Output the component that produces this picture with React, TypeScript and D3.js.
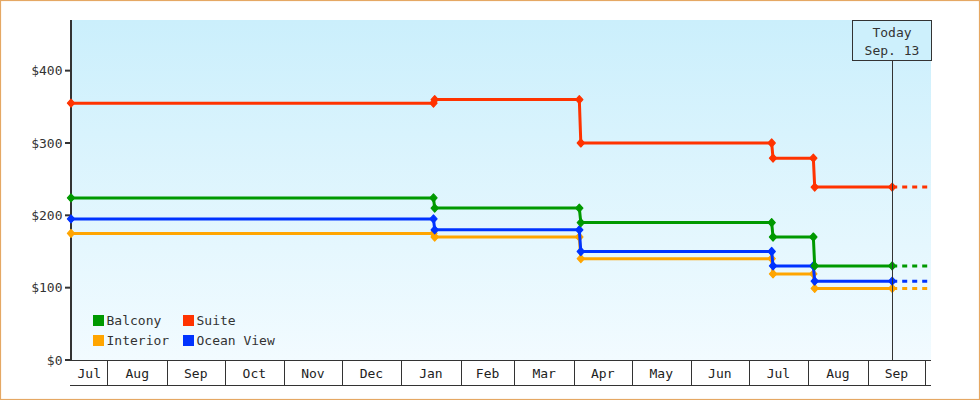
import React from "react";
import * as d3 from "d3";

// ---- data ----
const seriesNames = ["Interior", "Ocean View", "Balcony", "Suite"];
const seriesColors = ["#ffa500", "#0033ff", "#009900", "#ff3300"];
const legendOrder = ["Balcony", "Suite", "Interior", "Ocean View"];

// observation timestamps (price checks)
const obsDates = [
  "2010-07-13T00:00",
  "2011-01-17T20:00",
  "2011-01-18T11:00",
  "2011-04-03T19:00",
  "2011-04-04T14:00",
  "2011-07-13T00:00",
  "2011-07-13T17:00",
  "2011-08-03T17:00",
  "2011-08-04T10:00",
  "2011-09-13T19:00",
];
const interiorPrices = [175, 175, 170, 170, 140, 140, 119, 119, 99, 99];
const oceanViewPrices = [195, 195, 180, 180, 150, 150, 130, 130, 109, 109];
const balconyPrices = [224, 224, 210, 210, 190, 190, 170, 170, 130, 130];
const suitePrices = [355, 355, 360, 360, 300, 300, 279, 279, 239, 239];
const allPrices = [interiorPrices, oceanViewPrices, balconyPrices, suitePrices];

const yTicks = [0, 100, 200, 300, 400];
const domainStart = "2010-07-13T00:00";
const domainEnd = "2011-10-04T00:00";
const todayDate = "2011-09-13T19:00";
const todayLabel = ["Today", "Sep. 13"];

const W = 980;
const H = 400;
const FONT = "'DejaVu Sans Mono', monospace";

export default function App() {
  const parse = (s: string) => new Date(s);
  const x = d3
    .scaleTime()
    .domain([parse(domainStart), parse(domainEnd)])
    .range([71, 931]);
  const y = d3.scaleLinear().domain([0, 470]).range([360, 20]);

  const months = d3.timeMonth.range(
    d3.timeMonth.floor(parse(domainStart)),
    parse(domainEnd)
  );
  const fmt = d3.timeFormat("%b");
  const monthBands = months.map((m) => {
    const s = Math.max(x(m), 71);
    const e = Math.min(x(d3.timeMonth.offset(m, 1)), 931);
    return { m, s, e, boundary: x(m) };
  });

  const line = d3
    .line<[Date, number]>()
    .x((d) => x(d[0]))
    .y((d) => y(d[1]));

  const tx = x(parse(todayDate));
  const diamond = "M0,-4L3.6,0L0,4L-3.6,0Z";

  return (
    <svg
      width={W}
      height={H}
      style={{ position: "absolute", left: 0, top: 0, display: "block" }}
      fontFamily={FONT}
    >
      <defs>
        <linearGradient id="bg" x1="0" y1="0" x2="0" y2="1">
          <stop offset="0" stopColor="#cbeffc" />
          <stop offset="1" stopColor="#f2fbff" />
        </linearGradient>
      </defs>
      <rect x={0} y={0} width={W} height={H} fill="#fff" />
      <rect x={0.5} y={0.5} width={W - 1} height={H - 1} fill="none" stroke="#e5a864" strokeWidth={1.2} />
      <rect x={71} y={20} width={860} height={340} fill="url(#bg)" />

      {/* x axis band */}
      <line x1={70} x2={931} y1={360.5} y2={360.5} stroke="#333" strokeWidth={1} />
      <line x1={70} x2={931} y1={385.5} y2={385.5} stroke="#333" strokeWidth={1} />
      {monthBands.map((b, i) =>
        b.boundary > 72 && b.boundary < 930 ? (
          <line
            key={"sep" + i}
            x1={Math.round(b.boundary) + 0.5}
            x2={Math.round(b.boundary) + 0.5}
            y1={360}
            y2={385}
            stroke="#333"
            strokeWidth={1}
          />
        ) : null
      )}
      {monthBands.map((b, i) =>
        b.e - b.s > 20 ? (
          <text
            key={"ml" + i}
            x={(b.s + b.e) / 2}
            y={377.5}
            textAnchor="middle"
            fontSize={13}
            fill="#222"
          >
            {fmt(b.m)}
          </text>
        ) : null
      )}

      {/* y axis */}
      <line x1={71} x2={71} y1={20} y2={361} stroke="#333" strokeWidth={2} />
      {yTicks.map((t) => (
        <g key={"yt" + t}>
          <line x1={65} x2={71} y1={y(t)} y2={y(t)} stroke="#333" strokeWidth={2} />
          <text x={62.5} y={y(t)} dy="0.35em" textAnchor="end" fontSize={13} fill="#333">
            {"$" + t}
          </text>
        </g>
      ))}

      {/* series */}
      {seriesNames.map((name, si) => {
        const pts: [Date, number][] = obsDates.map((d, i) => [parse(d), allPrices[si][i]]);
        const last = pts[pts.length - 1];
        const ext: [Date, number][] = [last, [parse(domainEnd), last[1]]];
        return (
          <g key={name}>
            <path d={line(pts) || ""} fill="none" stroke={seriesColors[si]} strokeWidth={3} />
            <path
              d={line(ext) || ""}
              fill="none"
              stroke={seriesColors[si]}
              strokeWidth={3}
              strokeDasharray="5,5"
            />
            {pts.map((p, i) => (
              <path
                key={i}
                d={diamond}
                transform={`translate(${x(p[0])},${y(p[1])})`}
                fill={seriesColors[si]}
                stroke={seriesColors[si]}
                strokeWidth={1.2}
                strokeLinejoin="round"
              />
            ))}
          </g>
        );
      })}

      {/* today marker */}
      <line x1={Math.round(tx) + 0.5} x2={Math.round(tx) + 0.5} y1={60} y2={360} stroke="#333" strokeWidth={1} />
      <rect x={852.5} y={20.5} width={79} height={40} fill="#cdf0fc" stroke="#333" strokeWidth={1} />
      <text x={892} y={36.5} textAnchor="middle" fontSize={13} fill="#333">
        {todayLabel[0]}
      </text>
      <text x={892} y={55} textAnchor="middle" fontSize={13} fill="#333">
        {todayLabel[1]}
      </text>

      {/* legend */}
      {legendOrder.map((name, i) => {
        const col = i % 2;
        const row = Math.floor(i / 2);
        const lx = col === 0 ? 93 : 183;
        const ly = 315 + row * 20;
        const c = seriesColors[seriesNames.indexOf(name)];
        return (
          <g key={"lg" + name}>
            <rect x={lx} y={ly} width={11} height={11} fill={c} />
            <text x={lx + 13.5} y={ly + 10} fontSize={13} fill="#333">
              {name}
            </text>
          </g>
        );
      })}
    </svg>
  );
}
